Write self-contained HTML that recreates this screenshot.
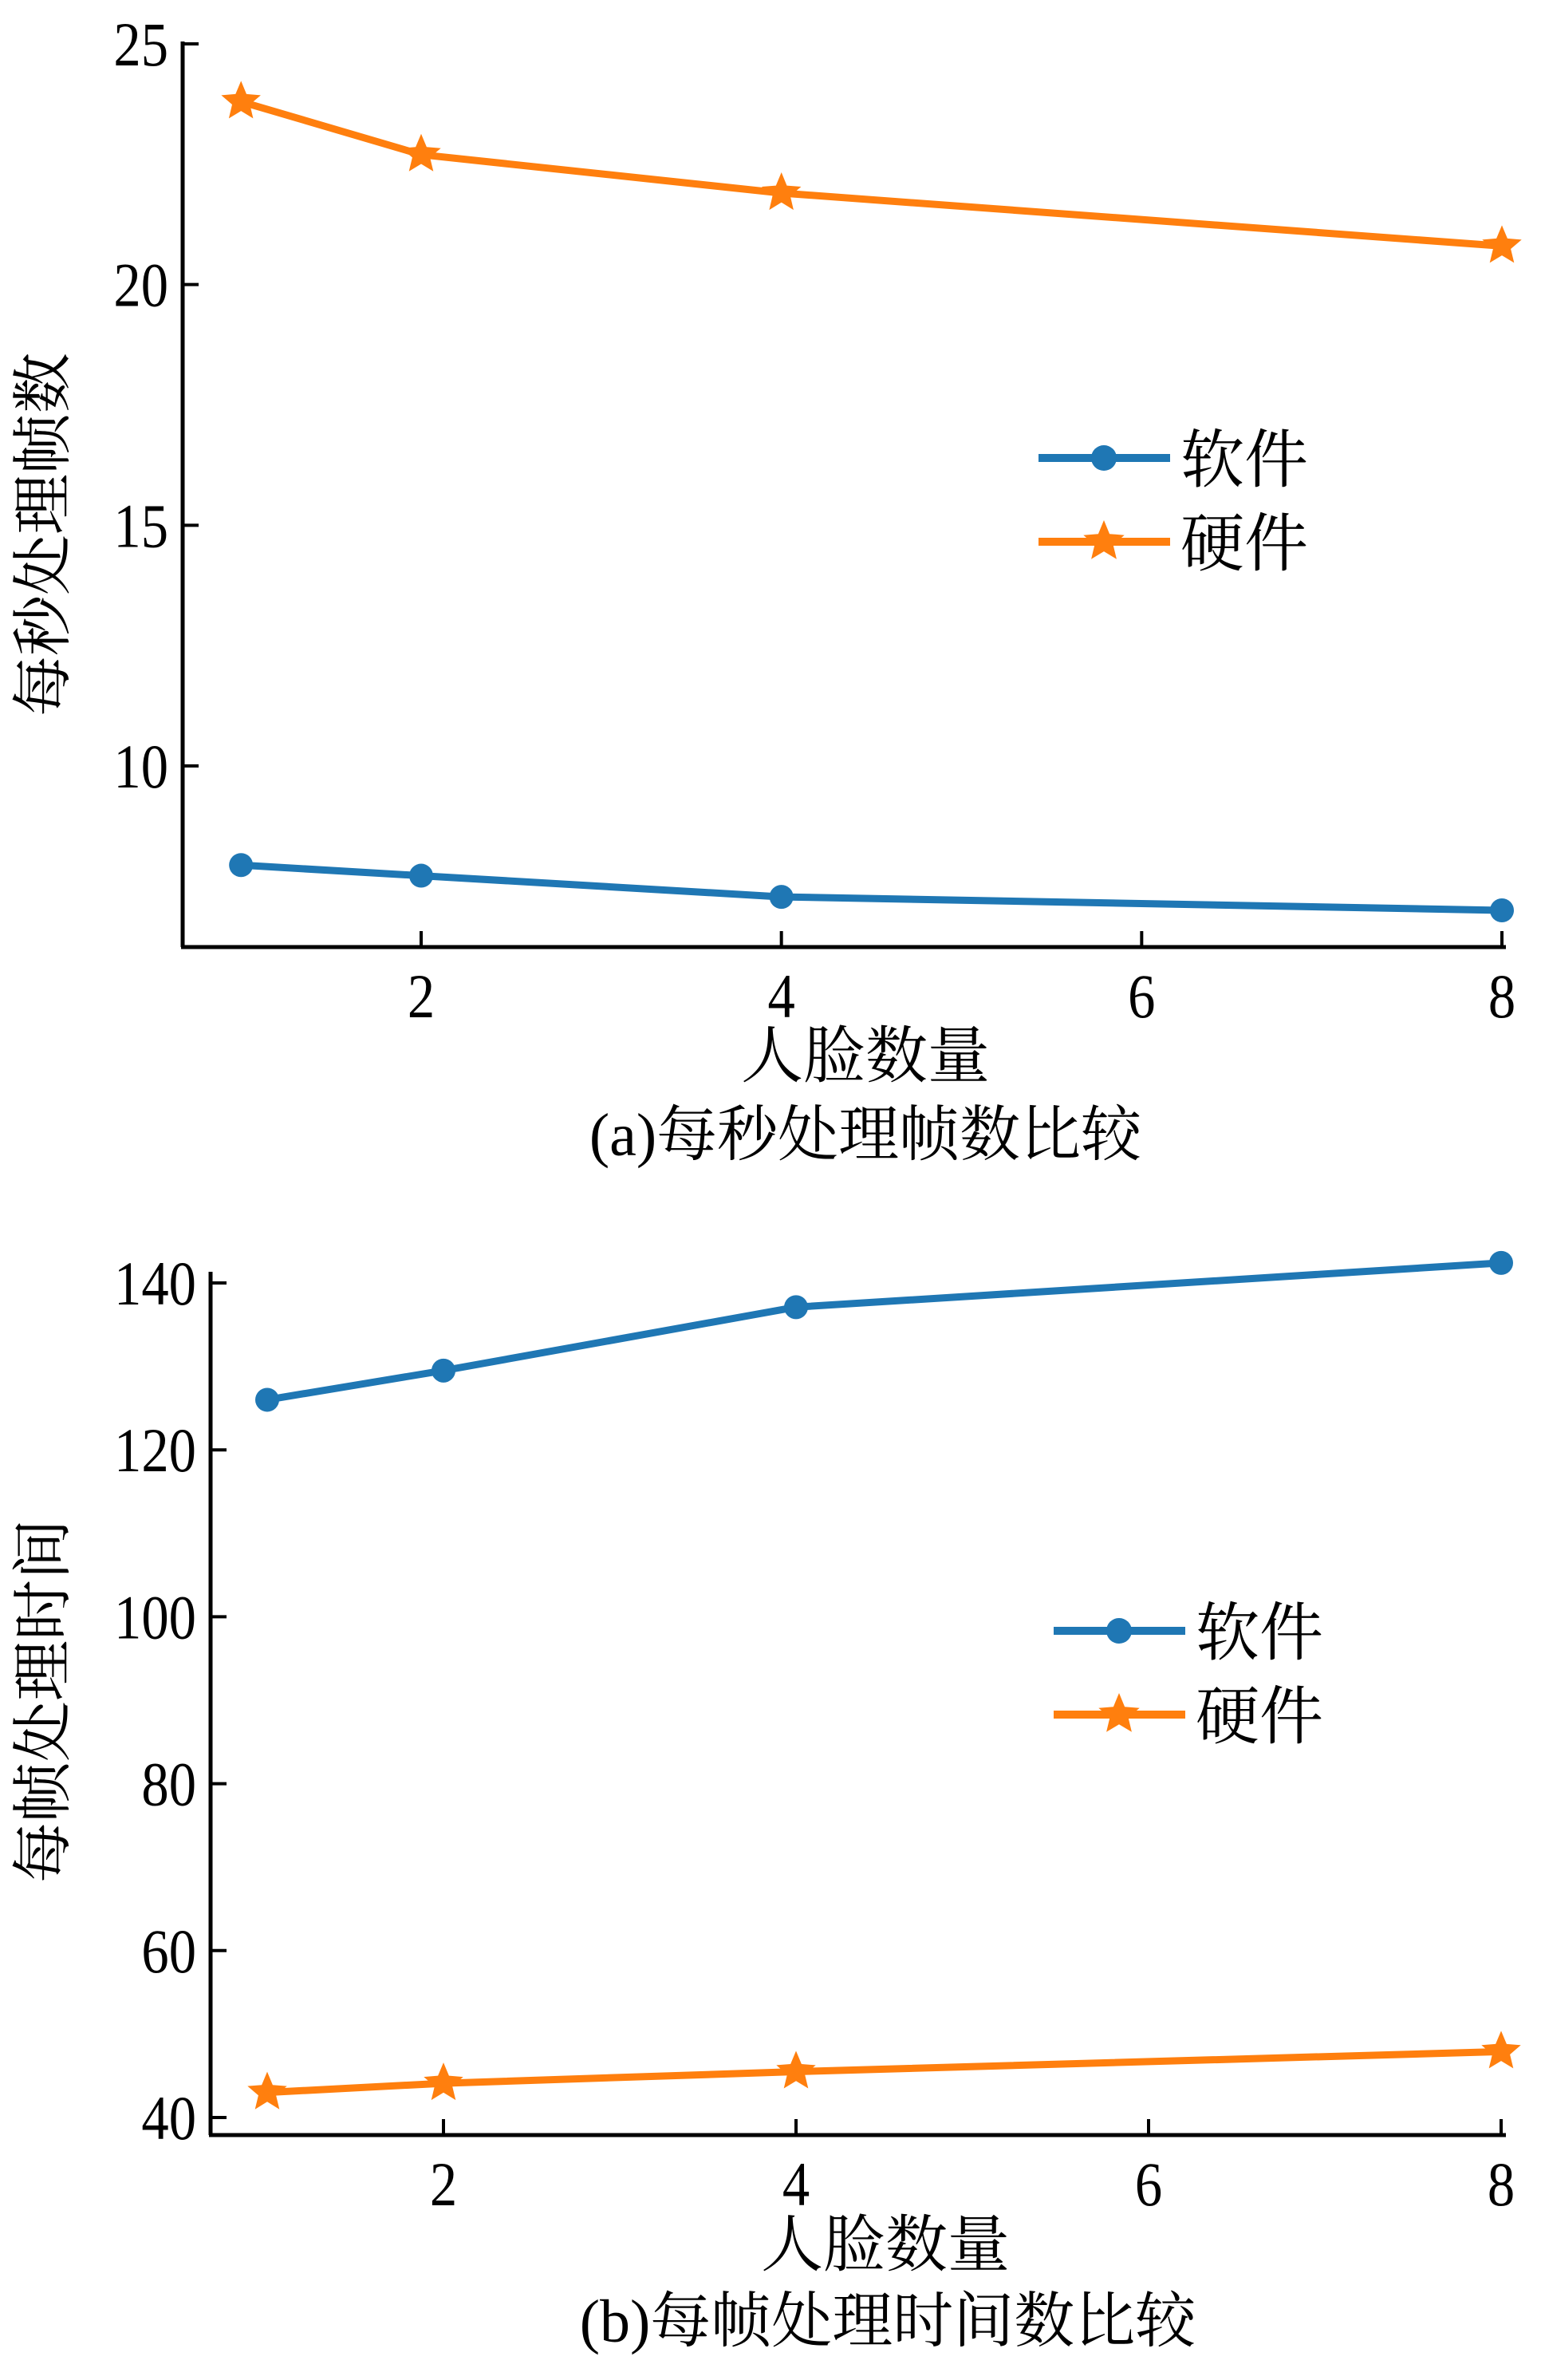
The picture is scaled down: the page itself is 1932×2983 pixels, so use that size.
<!DOCTYPE html>
<html><head><meta charset="utf-8">
<style>
html,body{margin:0;padding:0;background:#fff;}
svg{display:block;}
text{font-family:"Liberation Serif","Noto Serif CJK SC",serif;fill:#000;}
</style></head>
<body>
<svg id="chart" width="1932" height="2983" viewBox="0 0 1932 2983" xmlns="http://www.w3.org/2000/svg"></svg>
<script>
const xCats = [1, 2, 4, 8];
const xTicks = [2, 4, 6, 8];
const fpsSoftware = [7.94, 7.72, 7.28, 7.0];
const fpsHardware = [23.8, 22.7, 21.9, 20.8];
const fpsTicks = [10, 15, 20, 25];
const timeSoftware = [126.0, 129.5, 137.1, 142.4];
const timeHardware = [43.0, 44.1, 45.5, 47.9];
const timeTicks = [40, 60, 80, 100, 120, 140];

const NS = 'http://www.w3.org/2000/svg';
const svg = document.getElementById('chart');
function mk(tag, attrs, parent) {
  const e = document.createElementNS(NS, tag);
  for (const k in attrs) e.setAttribute(k, attrs[k]);
  (parent || svg).appendChild(e);
  return e;
}
function starPts(cx, cy, R) {
  const r = R * 0.45; let p = [];
  for (let i = 0; i < 10; i++) {
    const a = -Math.PI / 2 + i * Math.PI / 5;
    const rr = i % 2 ? r : R;
    p.push((cx + rr * Math.cos(a)).toFixed(1) + ',' + (cy + rr * Math.sin(a)).toFixed(1));
  }
  return p.join(' ');
}
const BLUE = '#1f77b4', ORANGE = '#ff7f0e';

function drawChart(cfg) {
  const g = mk('g', {});
  
  
  const X = v => cfg.x2px + (v - 2) * (cfg.x8px - cfg.x2px) / 6;
  const Y = v => cfg.y0px + (v - cfg.y0) * (cfg.y1px - cfg.y0px) / (cfg.y1 - cfg.y0);
  const ya = mk('line', {x1: cfg.left, y1: cfg.axTop, x2: cfg.left, y2: cfg.bottom, stroke: '#000', 'stroke-width': 5}, g);
  
  
  const xa = mk('line', {x1: cfg.left - 2, y1: cfg.bottom, x2: cfg.right, y2: cfg.bottom, stroke: '#000', 'stroke-width': 5}, g);
  
  
  cfg.yTicks.forEach(t => {
    const y = Y(t);
    const tl = mk('line', {x1: cfg.left, y1: y, x2: cfg.left + 20, y2: y, stroke: '#000', 'stroke-width': 4}, g);
    
    
    const tx = mk('text', {x: 0, y: 0, 'text-anchor': 'end', 'font-size': 78, transform: 'translate(' + (cfg.left - 18) + ',' + (y + 27) + ') scale(0.88,1)'}, g);
    tx.textContent = t;
    
    
  });
  xTicks.forEach(t => {
    const x = X(t);
    const tl = mk('line', {x1: x, y1: cfg.bottom, x2: x, y2: cfg.bottom - 20, stroke: '#000', 'stroke-width': 4}, g);
    
    
    const tx = mk('text', {x: 0, y: 0, 'text-anchor': 'middle', 'font-size': 78, transform: 'translate(' + x + ',' + (cfg.bottom + 88) + ') scale(0.88,1)'}, g);
    tx.textContent = t;
    
    
  });
  const series = [
    {vals: cfg.soft, color: BLUE, mark: 'circle', name: 'software'},
    {vals: cfg.hard, color: ORANGE, mark: 'star', name: 'hardware'}
  ];
  series.forEach(s => {
    const pts = s.vals.map((v, i) => X(xCats[i]).toFixed(1) + ',' + Y(v).toFixed(1)).join(' ');
    const pl = mk('polyline', {points: pts, fill: 'none', stroke: s.color, 'stroke-width': 9, 'stroke-linejoin': 'round'}, g);
    
    
    s.vals.forEach((v, i) => {
      let m;
      if (s.mark === 'circle') m = mk('circle', {cx: X(xCats[i]), cy: Y(v), r: 15, fill: s.color}, g);
      else m = mk('polygon', {points: starPts(X(xCats[i]), Y(v), 26), fill: s.color}, g);
      
      
    });
  });
  const lg = mk('g', {}, g);
  
  
  [[BLUE, 'circle', '软件', cfg.legY1], [ORANGE, 'star', '硬件', cfg.legY2]].forEach(([c, m, label, y]) => {
    const ln = mk('line', {x1: cfg.legX, y1: y, x2: cfg.legX + 165, y2: y, stroke: c, 'stroke-width': 10}, lg);
    
    
    let mm;
    if (m === 'circle') mm = mk('circle', {cx: cfg.legX + 82, cy: y, r: 16, fill: c}, lg);
    else mm = mk('polygon', {points: starPts(cfg.legX + 82, y, 27), fill: c}, lg);
    
    
    const t = mk('text', {x: cfg.legX + 178, y: y + 30, 'font-size': 80}, lg);
    t.textContent = label;
    
    
  });
  const xt = mk('text', {x: cfg.xtX, y: cfg.xtY, 'text-anchor': 'middle', 'font-size': 78}, g);
  xt.textContent = '人脸数量';
  
  
  const yt = mk('text', {x: 0, y: 0, 'text-anchor': 'middle', 'font-size': 76, transform: 'translate(' + (cfg.ytX) + ',' + cfg.ytY + ') rotate(-90)'}, g);
  yt.textContent = cfg.yTitle;
  
  
  const cap = mk('text', {x: cfg.capX, y: cfg.capY, 'text-anchor': 'middle', 'font-size': 76}, g);
  cap.textContent = cfg.caption;
  
  
}

drawChart({
  name: 'fps-chart', soft: fpsSoftware, hard: fpsHardware, yTicks: fpsTicks,
  left: 229, right: 1888, bottom: 1187, axTop: 52,
  x2px: 528, x8px: 1883, y0: 10, y0px: 960, y1: 25, y1px: 55,
  legX: 1302, legY1: 574, legY2: 679,
  xtX: 1085, xtY: 1350, ytX: 80, ytY: 670, yTitle: '每秒处理帧数',
  capX: 1085, capY: 1448, caption: '(a)每秒处理帧数比较'
});
drawChart({
  name: 'time-chart', soft: timeSoftware, hard: timeHardware, yTicks: timeTicks,
  left: 264, right: 1888, bottom: 2676, axTop: 1594,
  x2px: 556, x8px: 1882, y0: 40, y0px: 2654, y1: 140, y1px: 1608,
  legX: 1321, legY1: 2044, legY2: 2149,
  xtX: 1110, xtY: 2840, ytX: 80, ytY: 2132, yTitle: '每帧处理时间',
  capX: 1113, capY: 2935, caption: '(b)每帧处理时间数比较'
});
</script>
</body></html>
